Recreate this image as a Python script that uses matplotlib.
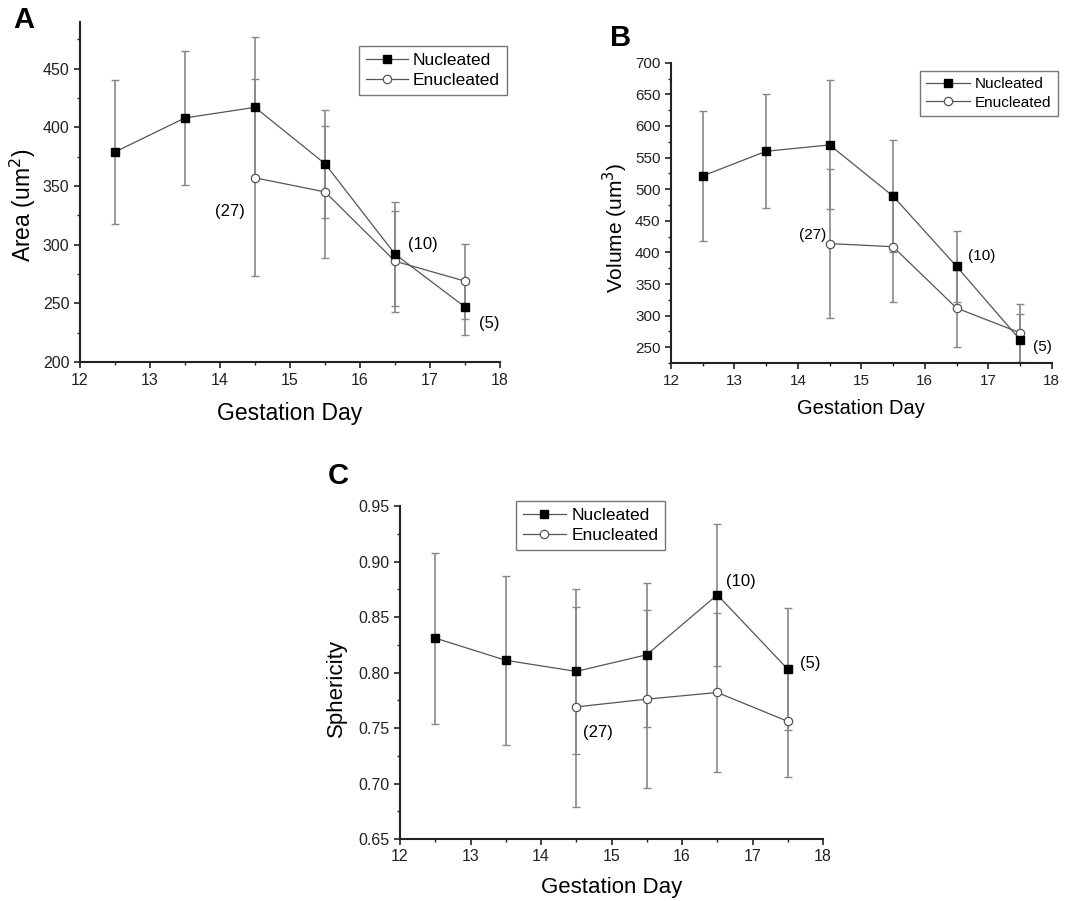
import matplotlib
matplotlib.use("Agg")
import matplotlib.pyplot as plt
from matplotlib.ticker import MultipleLocator

plt.rcParams['font.family'] = ['Liberation Sans', 'DejaVu Sans']

# gestation days
days_nuc = [12.5, 13.5, 14.5, 15.5, 16.5, 17.5]
days_enuc = [14.5, 15.5, 16.5, 17.5]

# area (um^2)
area_nuc = [379, 408, 417, 369, 292, 247]
area_nuc_sd = [61, 57, 60, 46, 44, 24]
area_enuc = [357, 345, 286, 269]
area_enuc_sd = [84, 56, 43, 32]

# volume (um^3)
vol_nuc = [521, 560, 570, 489, 378, 262]
vol_nuc_sd = [103, 90, 102, 88, 56, 41]
vol_enuc = [414, 409, 312, 273]
vol_enuc_sd = [118, 87, 61, 46]

# sphericity
sph_nuc = [0.831, 0.811, 0.801, 0.816, 0.870, 0.803]
sph_nuc_sd = [0.077, 0.076, 0.074, 0.065, 0.064, 0.055]
sph_enuc = [0.769, 0.776, 0.782, 0.756]
sph_enuc_sd = [0.090, 0.080, 0.072, 0.050]

LINE = '#555555'
BAR = '#888888'


def panel(ax, yn, yn_sd, ye, ye_sd, ylim, ystep, ylabel, tick_fs, xlab_fs, ylab_fs,
          xpad, ylab_xy, fmt='%d'):
    ax.errorbar(days_nuc, yn, yerr=yn_sd, fmt='none', ecolor=BAR, elinewidth=1.2,
                capsize=3, capthick=1.0, zorder=2)
    ax.errorbar(days_enuc, ye, yerr=ye_sd, fmt='none', ecolor=BAR, elinewidth=1.2,
                capsize=3, capthick=1.0, zorder=2)
    ax.plot(days_enuc, ye, '-o', color=LINE, lw=0.9, mfc='white', mec='#555555',
            mew=0.9, ms=6, label='Enucleated', zorder=3)
    ax.plot(days_nuc, yn, '-s', color=LINE, lw=0.9, mfc='black', mec='black',
            ms=6, label='Nucleated', zorder=4)
    ax.set_xlim(12, 18)
    ax.set_ylim(*ylim)
    ax.xaxis.set_major_locator(MultipleLocator(1))
    ax.xaxis.set_minor_locator(MultipleLocator(0.5))
    ax.yaxis.set_major_locator(MultipleLocator(ystep))
    ax.yaxis.set_minor_locator(MultipleLocator(ystep / 2))
    ax.yaxis.set_major_formatter(plt.FormatStrFormatter(fmt))
    for s in ('top', 'right'):
        ax.spines[s].set_visible(False)
    for s in ('left', 'bottom'):
        ax.spines[s].set_linewidth(1.5)
        ax.spines[s].set_color('#222222')
    ax.tick_params(which='major', direction='out', length=4, width=1.2,
                   labelsize=tick_fs, colors='#222222')
    ax.tick_params(which='minor', direction='out', length=2.5, width=1.0,
                   colors='#222222')
    ax.set_xlabel('Gestation Day', fontsize=xlab_fs, labelpad=xpad)
    ax.set_ylabel(ylabel, fontsize=ylab_fs)
    ax.yaxis.set_label_coords(*ylab_xy)
    h, l = ax.get_legend_handles_labels()
    return h[::-1], l[::-1]


def legend(ax, h, l, xy, fs, hl=2.5):
    ax.legend(h, l, loc='upper left', bbox_to_anchor=xy, fontsize=fs,
              frameon=True, fancybox=False, edgecolor='#555555', handlelength=hl,
              handletextpad=0.3, borderpad=0.4, labelspacing=0.3, borderaxespad=0)


fig = plt.figure(figsize=(10.69, 9.01), dpi=100)

axA = fig.add_axes([0.0748, 0.598, 0.393, 0.378])
h, l = panel(axA, area_nuc, area_nuc_sd, area_enuc, area_enuc_sd, (200, 490), 50,
             'Area (um$^2$)', 11.5, 16.5, 16.5, 10, (-0.10, 0.46))
legend(axA, h, l, (0.664, 0.929), 12.5, hl=2.4)
axA.text(14.35, 328, '(27)', fontsize=12, ha='right', va='center')
axA.text(16.68, 300, '(10)', fontsize=12, ha='left', va='center')
axA.text(17.7, 233, '(5)', fontsize=12, ha='left', va='center')

axB = fig.add_axes([0.6277, 0.597, 0.3561, 0.3334])
h, l = panel(axB, vol_nuc, vol_nuc_sd, vol_enuc, vol_enuc_sd, (225, 700), 50,
             'Volume (um$^3$)', 11, 14.5, 15, 8, (-0.108, 0.45))
legend(axB, h, l, (0.654, 0.972), 11, hl=2.9)
axB.text(14.45, 427, '(27)', fontsize=11, ha='right', va='center')
axB.text(16.68, 394, '(10)', fontsize=11, ha='left', va='center')
axB.text(17.7, 250, '(5)', fontsize=11, ha='left', va='center')

axC = fig.add_axes([0.3742, 0.0688, 0.3957, 0.3696])
h, l = panel(axC, sph_nuc, sph_nuc_sd, sph_enuc, sph_enuc_sd, (0.65, 0.95), 0.05,
             'Sphericity', 11.5, 16, 16, 9, (-0.125, 0.453), fmt='%.2f')
legend(axC, h, l, (0.2735, 1.015), 12.5)
axC.text(16.63, 0.882, '(10)', fontsize=12, ha='left', va='center')
axC.text(17.68, 0.808, '(5)', fontsize=12, ha='left', va='center')
axC.text(14.6, 0.746, '(27)', fontsize=12, ha='left', va='center')

fig.text(0.012, 0.978, 'A', fontsize=21, fontweight='bold', va='center')
fig.text(0.571, 0.958, 'B', fontsize=21, fontweight='bold', va='center')
fig.text(0.307, 0.472, 'C', fontsize=21, fontweight='bold', va='center')

fig.savefig('out.png', dpi=100)
